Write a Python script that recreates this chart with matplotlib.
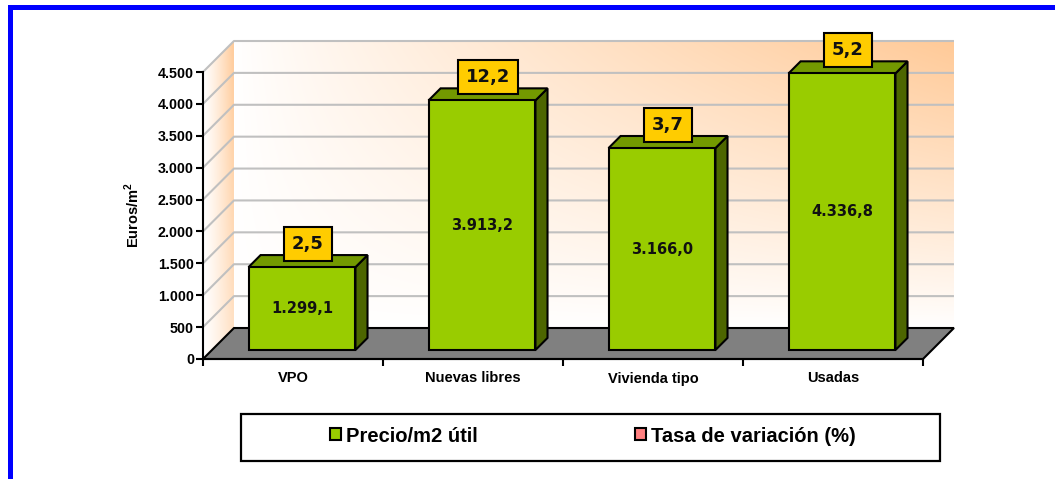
import numpy as np
import matplotlib
matplotlib.use('Agg')
import matplotlib.pyplot as plt
from matplotlib.patches import Polygon, Rectangle, Patch
from matplotlib.colors import to_rgb

# ---------------- data ----------------
categories = ['VPO', 'Nuevas libres', 'Vivienda tipo', 'Usadas']
precio = [1299.1, 3913.2, 3166.0, 4336.8]
tasa = [2.5, 12.2, 3.7, 5.2]
yticks = [0, 500, 1000, 1500, 2000, 2500, 3000, 3500, 4000, 4500]
series_names = ['Precio/m2 útil', 'Tasa de variación (%)']
ylabel = 'Euros/m$^{\\mathbf{2}}$'


def es(v, d=1):
    s = f"{v:,.{d}f}"
    return s.replace(',', '_').replace('.', ',').replace('_', '.')


plt.rcParams['font.family'] = ['Liberation Sans', 'DejaVu Sans']
plt.rcParams['font.weight'] = 'bold'
plt.rcParams['mathtext.fontset'] = 'custom'
plt.rcParams['mathtext.rm'] = 'Liberation Sans'
plt.rcParams['mathtext.bf'] = 'Liberation Sans:bold'

W, H = 1055, 479
fig = plt.figure(figsize=(W / 100, H / 100), dpi=100)
fig.patch.set_facecolor('white')

N = len(categories)
YMAX = yticks[-1]
DX, DY = 0.172, 486          # 3-D depth (category units, value units)
F0, F1 = 0.29, 0.68          # bar depth range (fraction of depth)
BW = 0.594                   # bar width (fraction of category)
px_x = 180.0
px_y = 287.0 / 4500.0
left_px, base_px = 203, 359

ax = fig.add_axes([left_px / W, (H - base_px) / H,
                   (N + DX) * px_x / W, (YMAX + DY) * px_y / H])
ax.set_facecolor('none')

# ---------------- walls ----------------
peach = np.array(to_rgb('#FFCA98'))
white = np.ones(3)
xx, yy = np.meshgrid(np.linspace(0, 1, 400), np.linspace(0, 1, 300))
t = np.clip(xx ** 0.85 * yy ** 0.9, 0, 1)
img = white * (1 - t[..., None]) + peach * t[..., None]
ax.imshow(img, extent=(DX, N + DX, DY, YMAX + DY), origin='lower',
          aspect='auto', zorder=0, interpolation='bilinear')

t2 = np.clip(xx ** 1.2 * (0.55 + 0.45 * yy), 0, 1)
img2 = white * (1 - t2[..., None]) + peach * t2[..., None]
im2 = ax.imshow(img2, extent=(0, DX, 0, YMAX + DY), origin='lower',
                aspect='auto', zorder=0, interpolation='bilinear')
lwall = Polygon([(0, 0), (DX, DY), (DX, YMAX + DY), (0, YMAX)], closed=True,
                facecolor='none', edgecolor='none', transform=ax.transData)
ax.add_patch(lwall)
im2.set_clip_path(lwall)

# gridlines
for v in yticks[1:]:
    ax.plot([0, DX, N + DX], [v, v + DY, v + DY], color='#C0C0C0', lw=1.5,
            zorder=1, solid_capstyle='butt', clip_on=False)

# floor
ax.add_patch(Polygon([(0, 0), (N, 0), (N + DX, DY), (DX, DY)], closed=True,
                     facecolor='#808080', edgecolor='black', lw=1.5, zorder=2,
                     clip_on=False))

# ---------------- bars ----------------
front_c, top_c, side_c = '#99CC00', '#739900', '#4D6600'
for i, (v, r) in enumerate(zip(precio, tasa)):
    xl = i + (1 - BW) / 2
    xr = xl + BW
    x0, y0 = F0 * DX, F0 * DY
    x1, y1 = F1 * DX, F1 * DY
    front = Polygon([(xl + x0, y0), (xr + x0, y0), (xr + x0, v + y0), (xl + x0, v + y0)],
                    closed=True, facecolor=front_c, edgecolor='black', lw=1.5,
                    zorder=4, clip_on=False, joinstyle='miter')
    top = Polygon([(xl + x0, v + y0), (xr + x0, v + y0), (xr + x1, v + y1), (xl + x1, v + y1)],
                  closed=True, facecolor=top_c, edgecolor='black', lw=1.5,
                  zorder=4, clip_on=False, joinstyle='miter')
    side = Polygon([(xr + x0, y0), (xr + x1, y1), (xr + x1, v + y1), (xr + x0, v + y0)],
                   closed=True, facecolor=side_c, edgecolor='black', lw=1.5,
                   zorder=4, clip_on=False, joinstyle='miter')
    for p in (side, top, front):
        ax.add_patch(p)
    # value label in front face
    ax.text((xl + xr) / 2 + x0, y0 + v / 2, es(v, 1), ha='center', va='center',
            fontsize=10.5, fontweight='bold', family='DejaVu Sans',
            color='#111111', zorder=10)
    # rate label box on top
    xm, ym = (F0 + F1) / 2 * DX, (F0 + F1) / 2 * DY
    ax.annotate(es(r, 1), xy=((xl + xr) / 2 + xm, v + ym), xytext=(0, 5.9),
                textcoords='offset points', ha='center', va='bottom',
                fontsize=13, fontweight='bold', family='DejaVu Sans',
                color='#111111', zorder=11, annotation_clip=False,
                bbox=dict(boxstyle='square,pad=0.45', facecolor='#FFCC00',
                          edgecolor='black', lw=1.5))

# ---------------- axes ----------------
for s in ('top', 'right'):
    ax.spines[s].set_visible(False)
ax.spines['left'].set_bounds(0, YMAX)
ax.spines['bottom'].set_bounds(0, N)
for s in ('left', 'bottom'):
    ax.spines[s].set_linewidth(1.5)
    ax.spines[s].set_zorder(6)

ax.set_yticks(yticks)
ax.set_yticklabels([es(v, 0) for v in yticks])
ax.tick_params(axis='y', length=5, width=1.5, pad=1.5, labelsize=10.3)
ax.set_xticks(range(N + 1))
ax.set_xticklabels([''] * (N + 1))
ax.tick_params(axis='x', which='major', length=5, width=1.5)
ax.set_xticks([i + 0.5 for i in range(N)], minor=True)
ax.set_xticklabels(categories, minor=True)
ax.tick_params(axis='x', which='minor', length=0, pad=9, labelsize=10.5)
for lab in ax.get_xticklabels(minor=True) + ax.get_yticklabels():
    lab.set_fontweight('bold')

ax.set_xlim(0, N + DX)
ax.set_ylim(0, YMAX + DY)

fig.text(132 / W, 1 - 215 / H, ylabel, rotation=90, ha='center', va='center',
         fontsize=10.5, fontweight='bold')

# ---------------- legend ----------------
handles = [Patch(facecolor='#99CC00', edgecolor='black', lw=1.5),
           Patch(facecolor='#FF8080', edgecolor='black', lw=1.5)]
fig.legend(handles, series_names, loc='center',
           bbox_to_anchor=(593 / W, 1 - 436 / H), ncol=2, frameon=False,
           prop=dict(weight='bold', size=14.5), handlelength=0.55,
           handleheight=0.55, handletextpad=0.25, columnspacing=7.8,
           borderpad=0)
fig.patches.append(Rectangle((241 / W, 1 - 461 / H), 699 / W, 47 / H,
                             transform=fig.transFigure, fill=False,
                             edgecolor='black', lw=1.6))

# ---------------- blue frame ----------------
fig.patches.append(Rectangle((8 / W, 0), 5 / W, (H - 5) / H, transform=fig.transFigure,
                             facecolor='#0000FF', edgecolor='none'))
fig.patches.append(Rectangle((8 / W, (H - 10) / H), (W - 8) / W, 5 / H,
                             transform=fig.transFigure, facecolor='#0000FF',
                             edgecolor='none'))

fig.savefig('out.png', dpi=100, facecolor='white')
